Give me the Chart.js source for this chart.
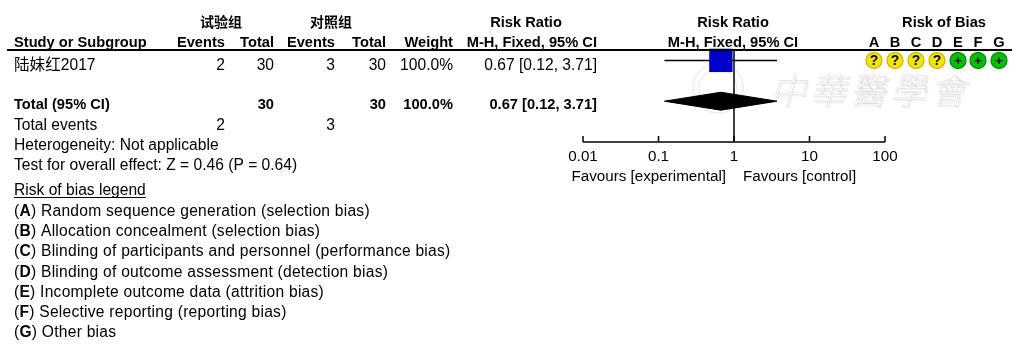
<!DOCTYPE html>
<html>
<head>
<meta charset="utf-8">
<script src="https://cdn.jsdelivr.net/npm/chart.js@4/dist/chart.umd.min.js"></script>
<style>
  html, body { margin: 0; padding: 0; background: #fff; }
  #wrap { width: 1022px; height: 349px; position: relative; }
</style>
</head>
<body>
<div id="wrap"><canvas id="forest"></canvas></div>
<script>
// study rows
const studies = ["陆妹红2017"];
const expEvents = [2];
const expTotal = [30];
const ctrlEvents = [3];
const ctrlTotal = [30];
const weights = [100.0];
const riskRatio = [0.67];
const ciLow = [0.12];
const ciHigh = [3.71];

// pooled estimate
const pooledRR = 0.67;
const pooledLow = 0.12;
const pooledHigh = 3.71;

const axisTicks = [0.01, 0.1, 1, 10, 100];
const axisTickLabels = ["0.01", "0.1", "1", "10", "100"];

const biasDomains = ["A", "B", "C", "D", "E", "F", "G"];
const biasJudgements = [["?", "?", "?", "?", "+", "+", "+"]];
const biasLegend = [
  "Random sequence generation (selection bias)",
  "Allocation concealment (selection bias)",
  "Blinding of participants and personnel (performance bias)",
  "Blinding of outcome assessment (detection bias)",
  "Incomplete outcome data (attrition bias)",
  "Selective reporting (reporting bias)",
  "Other bias"
];

const FONT = "'Liberation Sans', Arial, 'Noto Sans CJK SC', sans-serif";
const reg = size => size + "px " + FONT;
const bold = size => "bold " + size + "px " + FONT;
const FS = 14.67;   // bold headings
const FR = 15.6;    // body text
const FA = 15.2;    // axis text

// one row unit on the y scale; study rows at 1, 2..., total row after a gap
const studyRows = studies.map((s, i) => i + 1);
const totalRow = studies.length + 2;

function fmt(v) { return v.toFixed(2); }

const studyLines = [];
const studySquares = [];
studies.forEach((s, i) => {
  studyLines.push({x: ciLow[i], y: studyRows[i]}, {x: ciHigh[i], y: studyRows[i]}, {x: null, y: null});
  studySquares.push({x: riskRatio[i], y: studyRows[i]});
});

const dh = 0.44;
const diamond = [
  {x: pooledLow, y: totalRow},
  {x: pooledRR, y: totalRow - dh},
  {x: pooledHigh, y: totalRow},
  {x: pooledRR, y: totalRow + dh},
  {x: pooledLow, y: totalRow}
];

const tablePlugin = {
  id: "forestTable",
  beforeDatasetsDraw(chart) {
    const ctx = chart.ctx;
    // faint society watermark
    ctx.save();
    ctx.strokeStyle = "rgba(0,0,0,0.07)";
    ctx.lineWidth = 1.5;
    ctx.beginPath(); ctx.arc(718, 88, 25, 0, Math.PI * 2); ctx.stroke();
    ctx.beginPath(); ctx.arc(718, 88, 19, 0, Math.PI * 2); ctx.stroke();
    ctx.font = "300 36px 'Noto Sans CJK TC'";
    ctx.textBaseline = "alphabetic";
    ctx.translate(770, 104);
    ctx.transform(1, 0, -0.25, 1, 0, 0);
    ctx.fillStyle = "rgba(0,0,0,0.05)";
    "中華醫學會".split("").forEach((c, i) => ctx.fillText(c, i * 40 + 2, 2));
    ctx.strokeStyle = "rgba(0,0,0,0.1)";
    ctx.lineWidth = 0.8;
    "中華醫學會".split("").forEach((c, i) => ctx.strokeText(c, i * 40, 0));
    ctx.restore();
  },
  afterDatasetsDraw(chart) {
    const ctx = chart.ctx;
    const x = chart.scales.x;
    const y = chart.scales.y;
    ctx.save();
    ctx.fillStyle = "#000";
    ctx.textBaseline = "alphabetic";

    const text = (s, px, py, align, font) => {
      ctx.font = font || reg(FR);
      ctx.textAlign = align || "left";
      ctx.fillText(s, px, py);
    };

    // header
    ctx.font = "bold 14px 'Noto Sans CJK SC'";
    ctx.textAlign = "center";
    ctx.fillText("试验组", 221, 27);
    ctx.fillText("对照组", 331, 27);
    text("Risk Ratio", 526, 27, "center", bold(FS));
    text("Risk Ratio", 733, 27, "center", bold(FS));
    text("Risk of Bias", 944, 27, "center", bold(FS));

    const h2 = 47;
    text("Study or Subgroup", 14, h2, "left", bold(FS));
    text("Events", 225, h2, "right", bold(FS));
    text("Total", 274, h2, "right", bold(FS));
    text("Events", 335, h2, "right", bold(FS));
    text("Total", 386, h2, "right", bold(FS));
    text("Weight", 453, h2, "right", bold(FS));
    text("M-H, Fixed, 95% CI", 597, h2, "right", bold(FS));
    text("M-H, Fixed, 95% CI", 733, h2, "center", bold(FS));
    const biasX = [874, 895, 916, 937, 958, 978, 999];
    biasDomains.forEach((d, i) => text(d, biasX[i], h2, "center", bold(FS)));

    ctx.strokeStyle = "#000";
    ctx.lineWidth = 2;
    ctx.beginPath(); ctx.moveTo(7, 50); ctx.lineTo(1012, 50); ctx.stroke();

    // study rows
    studies.forEach((s, i) => {
      const py = y.getPixelForValue(studyRows[i]) + 10;
      text(s, 14, py);
      text(String(expEvents[i]), 225, py, "right");
      text(String(expTotal[i]), 274, py, "right");
      text(String(ctrlEvents[i]), 335, py, "right");
      text(String(ctrlTotal[i]), 386, py, "right");
      text(weights[i].toFixed(1) + "%", 453, py, "right");
      text(fmt(riskRatio[i]) + " [" + fmt(ciLow[i]) + ", " + fmt(ciHigh[i]) + "]", 597, py, "right");

      const cy = y.getPixelForValue(studyRows[i]);
      biasJudgements[i].forEach((j, k) => {
        const low = j === "+";
        ctx.beginPath();
        ctx.arc(biasX[k], cy, 8, 0, Math.PI * 2);
        ctx.fillStyle = low ? "#00c000" : "#f2e600";
        ctx.fill();
        ctx.lineWidth = 1.2;
        ctx.strokeStyle = low ? "#008800" : "#c8b400";
        ctx.stroke();
        ctx.fillStyle = "#000";
        text(j, biasX[k], cy + 5, "center", bold(j === "+" ? 13 : 14));
      });
    });

    // total rows
    const ty = y.getPixelForValue(totalRow) + 8;
    const sum = a => a.reduce((p, c) => p + c, 0);
    text("Total (95% CI)", 14, ty, "left", bold(FS));
    text(String(sum(expTotal)), 274, ty, "right", bold(FS));
    text(String(sum(ctrlTotal)), 386, ty, "right", bold(FS));
    text(sum(weights).toFixed(1) + "%", 453, ty, "right", bold(FS));
    text(fmt(pooledRR) + " [" + fmt(pooledLow) + ", " + fmt(pooledHigh) + "]", 597, ty, "right", bold(FS));

    text("Total events", 14, 130);
    text(String(sum(expEvents)), 225, 130, "right");
    text(String(sum(ctrlEvents)), 335, 130, "right");
    text("Heterogeneity: Not applicable", 14, 150);
    text("Test for overall effect: Z = 0.46 (P = 0.64)", 14, 170);

    // risk of bias legend
    text("Risk of bias legend", 14, 195);
    ctx.font = reg(FR);
    const uw = ctx.measureText("Risk of bias legend").width;
    ctx.lineWidth = 1;
    ctx.strokeStyle = "#000";
    ctx.beginPath(); ctx.moveTo(14, 197.5); ctx.lineTo(14 + uw, 197.5); ctx.stroke();

    ctx.letterSpacing = "0.25px";
    biasLegend.forEach((l, i) => {
      const py = 216 + i * 20.2;
      let px = 14;
      ctx.textAlign = "left";
      ctx.font = reg(FR); ctx.fillText("(", px, py); px += ctx.measureText("(").width;
      ctx.font = bold(FR); ctx.fillText(biasDomains[i], px, py); px += ctx.measureText(biasDomains[i]).width;
      ctx.font = reg(FR); ctx.fillText(") " + l, px, py);
    });
    ctx.letterSpacing = "0px";

    // x axis with upward tick marks
    const ay = y.getPixelForValue(y.max);
    ctx.strokeStyle = "#000";
    ctx.lineWidth = 1.5;
    ctx.beginPath();
    ctx.moveTo(x.getPixelForValue(axisTicks[0]), ay);
    ctx.lineTo(x.getPixelForValue(axisTicks[axisTicks.length - 1]), ay);
    ctx.stroke();
    axisTicks.forEach((t, i) => {
      const px = x.getPixelForValue(t);
      ctx.beginPath(); ctx.moveTo(px, ay - 6); ctx.lineTo(px, ay); ctx.stroke();
      text(axisTickLabels[i], px, ay + 19, "center", reg(FA));
    });
    const one = x.getPixelForValue(1);
    text("Favours [experimental]", one - 8, ay + 39, "right", reg(FA));
    text("Favours [control]", one + 9, ay + 39, "left", reg(FA));
    ctx.restore();
  }
};

new Chart(document.getElementById("forest"), {
  type: "scatter",
  data: {
    datasets: [
      {
        // line of no effect
        data: [{x: 1, y: 0.45}, {x: 1, y: 5}],
        showLine: true,
        borderColor: "#000",
        borderWidth: 1.5,
        pointRadius: 0,
        order: 0
      },
      {
        data: studySquares,
        pointStyle: "rect",
        pointRadius: weights.map(w => 16.5 * Math.sqrt(w / 100)),
        backgroundColor: "#0000cc",
        borderColor: "#0000cc",
        borderWidth: 0,
        order: 1
      },
      {
        data: studyLines,
        showLine: true,
        spanGaps: false,
        borderColor: "#000",
        borderWidth: 1.5,
        pointRadius: 0,
        order: 2
      },
      {
        data: diamond,
        showLine: true,
        fill: "shape",
        backgroundColor: "#000",
        borderColor: "#000",
        borderWidth: 1,
        pointRadius: 0,
        tension: 0,
        order: 3
      }
    ]
  },
  options: {
    responsive: true,
    maintainAspectRatio: false,
    animation: false,
    events: [],
    clip: false,
    layout: { padding: { left: 583, right: 137, top: 40, bottom: 207 } },
    plugins: { legend: { display: false }, tooltip: { enabled: false } },
    scales: {
      x: { type: "logarithmic", min: 0.01, max: 100, display: false },
      y: { type: "linear", min: 0, max: 5, reverse: true, display: false }
    }
  },
  plugins: [tablePlugin]
});
</script>
</body>
</html>
